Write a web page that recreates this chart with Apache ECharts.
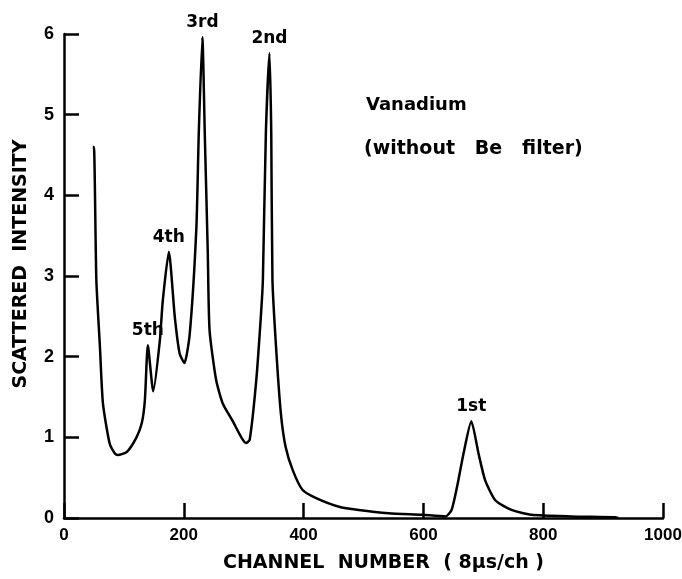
<!DOCTYPE html>
<html>
<head>
<meta charset="utf-8">
<script src="https://cdn.jsdelivr.net/npm/echarts@6/dist/echarts.min.js"></script>
<style>
  html, body { margin: 0; padding: 0; background: #fff; }
  #chart { width: 682px; height: 579px; }
</style>
</head>
<body>
<div id="chart"></div>
<script>
// channel number vs scattered intensity
const channels = [48, 50, 54, 60, 65, 76, 85, 90, 105, 121, 130, 135, 140,
  149, 160, 165, 175, 185, 193, 201, 210, 221, 225, 231, 235, 240, 243, 254,
  265, 281, 296, 304, 310, 321, 329, 332, 337, 343, 346, 348, 354, 362, 370,
  382, 398, 420, 459, 492, 542, 597, 637, 647, 656, 667, 680, 692, 703, 720,
  747, 780, 847, 920, 925]
const intensity = [4.6, 4.6, 2.95, 2.12, 1.42, 0.93, 0.8, 0.78, 0.82, 1.0,
  1.18, 1.46, 2.14, 1.57, 2.2, 2.7, 3.3, 2.49, 2.04, 1.92, 2.29, 3.6, 4.77,
  5.96, 4.77, 3.3, 2.33, 1.71, 1.42, 1.21, 1.0, 0.93, 0.97, 1.71, 2.54, 2.95,
  4.77, 5.76, 4.77, 2.95, 2.12, 1.3, 0.88, 0.59, 0.35, 0.25, 0.14, 0.1, 0.06,
  0.04, 0.02, 0.1, 0.38, 0.8, 1.2, 0.8, 0.47, 0.22, 0.1, 0.04, 0.02, 0.01, 0]

const peakNames = ['5th', '4th', '3rd', '2nd', '1st']
const peakChannels = [140, 175, 231, 343, 680]
const peakHeights = [2.14, 3.3, 5.96, 5.76, 1.2]

const xTicks = [0, 200, 400, 600, 800, 1000]
const yTicks = [0, 1, 2, 3, 4, 5, 6]

const font = 'DejaVu Sans'
const tickFont = 'Liberation Sans'

const chart = echarts.init(document.getElementById('chart'))

chart.setOption({
  animation: false,
  backgroundColor: '#fff',
  grid: { left: 64, right: 19, top: 34, bottom: 61, outerBoundsMode: 'none' },
  xAxis: {
    type: 'value',
    min: xTicks[0],
    max: xTicks[xTicks.length - 1],
    interval: 200,
    name: 'CHANNEL  NUMBER  ( 8μs/ch )',
    nameLocation: 'middle',
    nameGap: 36,
    nameTextStyle: { fontFamily: font, fontWeight: 'bold', fontSize: 19, color: '#000', padding: [0, 0, 0, 40] },
    axisLine: { lineStyle: { color: '#000', width: 2.5 } },
    axisTick: { inside: true, length: 15, lineStyle: { color: '#000', width: 2.5 } },
    axisLabel: { fontFamily: tickFont, fontWeight: 'bold', fontSize: 17, color: '#000', margin: 9, formatter: v => String(v) },
    splitLine: { show: false }
  },
  yAxis: {
    type: 'value',
    min: yTicks[0],
    max: yTicks[yTicks.length - 1],
    interval: 1,
    name: 'SCATTERED  INTENSITY',
    nameLocation: 'middle',
    nameRotate: 90,
    nameGap: 33,
    nameTextStyle: { fontFamily: font, fontWeight: 'bold', fontSize: 19, color: '#000', padding: [0, 0, 0, 24] },
    axisLine: { show: true, lineStyle: { color: '#000', width: 2.5 } },
    axisTick: { show: true, inside: true, length: 15, lineStyle: { color: '#000', width: 2.5 } },
    axisLabel: { fontFamily: tickFont, fontWeight: 'bold', fontSize: 18, color: '#000', margin: 10 },
    splitLine: { show: false }
  },
  graphic: [
    { type: 'text', left: 366, top: 96, style: { text: 'Vanadium', fontFamily: font, fontWeight: 'bold', fontSize: 18, fill: '#000' } },
    { type: 'text', left: 364, top: 140, style: { text: '(without   Be   filter)', fontFamily: font, fontWeight: 'bold', fontSize: 19, fill: '#000' } }
  ],
  series: [
    {
      type: 'line',
      data: channels.map((c, i) => [c, intensity[i]]),
      showSymbol: false,
      smooth: 0.2,
      lineStyle: { color: '#000', width: 2.5 }
    },
    {
      type: 'scatter',
      data: peakChannels.map((c, i) => [c, peakHeights[i], peakNames[i]]),
      symbolSize: 0,
      itemStyle: { opacity: 1 },
      label: {
        show: true,
        position: 'top',
        distance: 6,
        formatter: p => p.data[2],
        fontFamily: font,
        fontWeight: 'bold',
        fontSize: 17,
        color: '#000'
      }
    }
  ]
})
</script>
</body>
</html>
